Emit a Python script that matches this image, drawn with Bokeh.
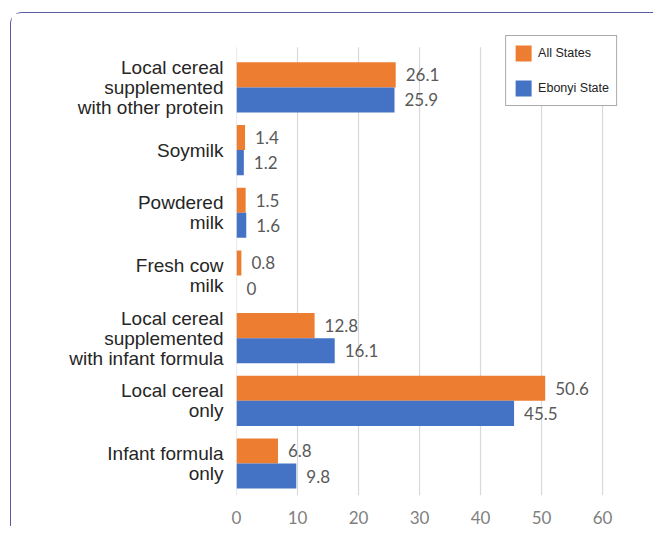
from bokeh.plotting import figure
from bokeh.models import Range1d, FixedTicker, Legend
from bokeh.core.properties import value
from bokeh.embed import file_html
from bokeh.resources import INLINE

categories = [
    "Local cereal\nsupplemented\nwith other protein",
    "Soymilk",
    "Powdered\nmilk",
    "Fresh cow\nmilk",
    "Local cereal\nsupplemented\nwith infant formula",
    "Local cereal\nonly",
    "Infant formula\nonly",
]
all_states = [26.1, 1.4, 1.5, 0.8, 12.8, 50.6, 6.8]
ebonyi = [25.9, 1.2, 1.6, 0, 16.1, 45.5, 9.8]
x_ticks = [0, 10, 20, 30, 40, 50, 60]
series_names = ["All States", "Ebonyi State"]

ORANGE = "#ED7D31"
BLUE = "#4472C4"

pos = list(range(len(categories)))
y_all = [p - 0.2 for p in pos]
y_eb = [p + 0.2 for p in pos]

ML, MT, FW, FH, MR, MB = 225, 15, 388, 467, 29, 29

p = figure(
    width=ML + FW + MR, height=MT + FH + MB,
    frame_width=FW, frame_height=FH,
    x_range=Range1d(0, 63.6), y_range=Range1d(6.51, -0.94),
    output_backend="svg", toolbar_location=None,
    min_border_left=ML, min_border_top=MT, min_border_right=MR, min_border_bottom=MB,
)
p.styles = {
    "margin-left": "10px", "margin-top": "12px",
    "border-left": "1.5px solid #5b58a5", "border-top": "1.5px solid #5b58a5",
    "border-top-left-radius": "12px",
}
p.outline_line_color = None
p.xgrid.visible = False
p.ygrid.visible = False

# gridlines
p.segment(x0=x_ticks, x1=x_ticks, y0=[-0.64] * len(x_ticks), y1=[6.51] * len(x_ticks),
          line_color="#d9d9d9", line_width=1.2)

r1 = p.hbar(y=y_all, height=0.4, left=0, right=all_states, fill_color=ORANGE, line_color=None)
r2 = p.hbar(y=y_eb, height=0.4, left=0, right=ebonyi, fill_color=BLUE, line_color=None)

p.text(x=all_states, y=y_all, text=[f"{v:g}" for v in all_states], x_offset=10,
       text_baseline="middle", text_align="left", text_font=value("Lato"),
       text_font_size="17px", text_color="#595959")
p.text(x=ebonyi, y=y_eb, text=[f"{v:g}" for v in ebonyi], x_offset=10,
       text_baseline="middle", text_align="left", text_font=value("Lato"),
       text_font_size="17px", text_color="#595959")

# axes
p.xaxis.ticker = FixedTicker(ticks=x_ticks)
p.xaxis.axis_line_color = None
p.xaxis.major_tick_line_color = None
p.xaxis.minor_tick_line_color = None
p.xaxis.major_tick_out = 0
p.xaxis.major_label_standoff = 15
p.xaxis.major_label_text_font = "Lato"
p.xaxis.major_label_text_font_size = "17px"
p.xaxis.major_label_text_color = "#7f7f7f"

p.yaxis.ticker = FixedTicker(ticks=pos)
p.yaxis.major_label_overrides = {i: c for i, c in zip(pos, categories)}
p.yaxis.axis_line_color = None
p.yaxis.major_tick_line_color = None
p.yaxis.minor_tick_line_color = None
p.yaxis.major_tick_out = 0
p.yaxis.major_label_standoff = 13
p.yaxis.major_label_text_font = "Liberation Sans"
p.yaxis.major_label_text_font_size = "19px"
p.yaxis.major_label_text_line_height = 0.96
p.yaxis.major_label_text_color = "#262626"

legend = Legend(items=[(series_names[0], [r1]), (series_names[1], [r2])],
                location="top_right", margin=7, padding=7, spacing=15,
                glyph_width=20, glyph_height=20, label_standoff=5,
                label_text_font="Liberation Sans", label_text_font_size="12.5px",
                label_text_color="#222222", border_line_color="#555555",
                border_line_width=1, background_fill_color="white", background_fill_alpha=1)
p.add_layout(legend, "center")

open("out.html", "w").write(file_html(p, INLINE))
